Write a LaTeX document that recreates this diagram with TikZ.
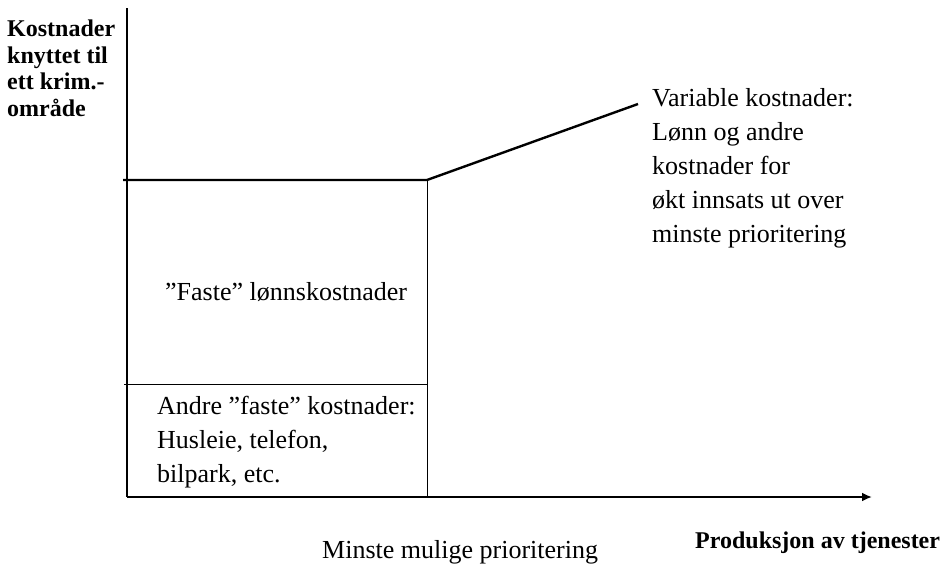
\documentclass[tikz,border=0pt]{standalone}
\usepackage{fontspec}
\setmainfont{Liberation Serif}
\usetikzlibrary{positioning, arrows.meta}

\begin{document}
\begin{tikzpicture}[x=1pt, y=-1pt, axis/.style={line width=2.4pt}, thinln/.style={line width=0.9pt},
		lbl/.style={inner sep=0pt, anchor=base west, align=left, font=\fontsize{26}{34}\selectfont},
		blbl/.style={lbl, font=\bfseries\fontsize{24}{26.5}\selectfont}]
		\useasboundingbox (0,0) rectangle (943,565);
		% axes
		\coordinate (O) at (127,497); \coordinate (ytop) at (127,8); \coordinate (xtip) at (872,497);
		\draw[axis] (ytop) -- (O);
		\draw[axis, -{Latex[length=10pt,width=9pt]}] (O) -- (xtip);
		% cost curve
		\coordinate (fixL) at (123,180); \coordinate (kink) at (427,180); \coordinate (varEnd) at (638,104);
		\coordinate (kinkFoot) at (427,497); \coordinate (splitL) at (124,384); \coordinate (splitR) at (427,384);
		\draw[axis, line join=round] (fixL) -- (kink) -- (varEnd);
		\draw[thinln] (kink) -- (kinkFoot); \draw[thinln] (splitL) -- (splitR);
		% labels (base = last line)
		\node[blbl] (ylabel) at (7,116) {Kostnader\\knyttet til\\ett krim.-\\område};
		\node[blbl] (xlabel) at (695,548) {Produksjon av tjenester};
		\node[lbl] (var) at (652,242) {Variable kostnader:\\Lønn og andre\\kostnader for\\økt innsats ut over\\minste prioritering};
		\node[lbl] (fast) at (165,300) {”Faste” lønnskostnader};
		\node[lbl] (andre) at (157,482) {Andre ”faste” kostnader:\\Husleie, telefon,\\bilpark, etc.};
		\node[lbl] (minste) at (322,558) {Minste mulige prioritering};
	\end{tikzpicture}
\end{document}
